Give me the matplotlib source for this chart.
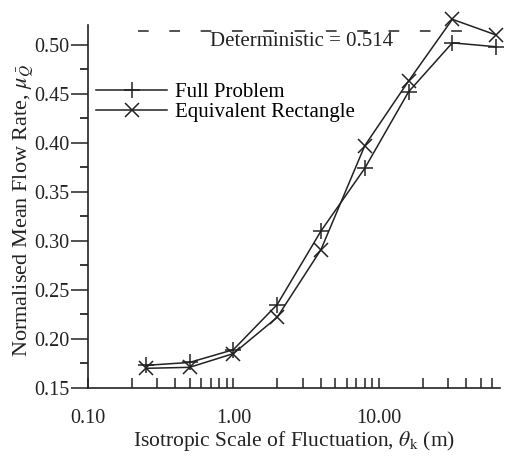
import numpy as np
import matplotlib
matplotlib.use("Agg")
import matplotlib.pyplot as plt
from matplotlib.ticker import FixedLocator, NullFormatter

# scale of fluctuation (m)
theta = [0.25, 0.5, 1.0, 2.0, 4.0, 8.0, 16.0, 32.0, 64.0]
full_problem = [0.173, 0.176, 0.189, 0.235, 0.310, 0.374, 0.452, 0.502, 0.498]
equiv_rect = [0.170, 0.171, 0.185, 0.222, 0.291, 0.397, 0.463, 0.526, 0.510]
deterministic = 0.514
xtick_vals = [0.1, 1.0, 10.0]
xtick_labels = ["0.10", "1.00", "10.00"]
ytick_vals = [0.15, 0.20, 0.25, 0.30, 0.35, 0.40, 0.45, 0.50]

plt.rcParams["font.family"] = ["Liberation Serif", "DejaVu Serif"]
plt.rcParams["mathtext.fontset"] = "stix"

fig = plt.figure(figsize=(5.05, 4.58), dpi=100)
ax = fig.add_axes([0.174, 0.153, 0.816, 0.792])

ink = "#222222"
ax.plot(theta, full_problem, color=ink, lw=1.1, marker="+", ms=11, mew=1.1,
        label="Full Problem", clip_on=False)
ax.plot(theta, equiv_rect, color=ink, lw=1.1, marker="x", ms=10, mew=1.1,
        label="Equivalent Rectangle", clip_on=False)

# deterministic level
ax.plot([0.22, 50], [deterministic, deterministic], color=ink, lw=1.1,
        ls=(0, (7, 13.5)), clip_on=False)
ax.text(0.69, deterministic - 0.001, "Deterministic = 0.514", fontsize=15,
        color=ink, va="top", ha="left")

ax.set_xscale("log")
ax.set_xlim(0.1, 68)
ax.set_ylim(0.15, 0.52)

ax.xaxis.set_major_locator(FixedLocator(xtick_vals))
ax.set_xticklabels(xtick_labels)
ax.xaxis.set_minor_locator(FixedLocator(
    [m * d for d in [0.1, 1.0, 10.0] for m in range(2, 10) if m * d < 68]))
ax.xaxis.set_minor_formatter(NullFormatter())
ax.yaxis.set_major_locator(FixedLocator(ytick_vals))
ax.set_yticklabels(["%.2f" % v for v in ytick_vals])
ax.yaxis.set_minor_locator(FixedLocator(np.arange(0.175, 0.52, 0.05)))

ax.tick_params(axis="x", which="both", direction="in", length=7, width=1.1,
               labelsize=14.5, colors=ink, pad=15)
ax.tick_params(axis="y", which="major", direction="out", length=12, width=1.1,
               labelsize=14.5, colors=ink, pad=1)
ax.tick_params(axis="y", which="minor", direction="out", length=6, width=1.1)

for s in ["top", "right"]:
    ax.spines[s].set_visible(False)
for s in ["left", "bottom"]:
    ax.spines[s].set_linewidth(1.2)
    ax.spines[s].set_color(ink)

ax.set_xlabel(r"Isotropic Scale of Fluctuation, $\theta_{\rm k}$ (m)",
              fontsize=15.5, color=ink, labelpad=1)
ax.set_ylabel(r"Normalised Mean Flow Rate, $\mu_{\bar{Q}}$", fontsize=16,
              color=ink)
ax.yaxis.set_label_coords(-0.125, 0.49)

ax.legend(loc="upper left", bbox_to_anchor=(-0.005, 0.87), frameon=False,
          fontsize=15, handlelength=3.4, handletextpad=0.38, labelspacing=0.0,
          borderpad=0, numpoints=1)

fig.savefig("out.png", dpi=100, facecolor="white")
